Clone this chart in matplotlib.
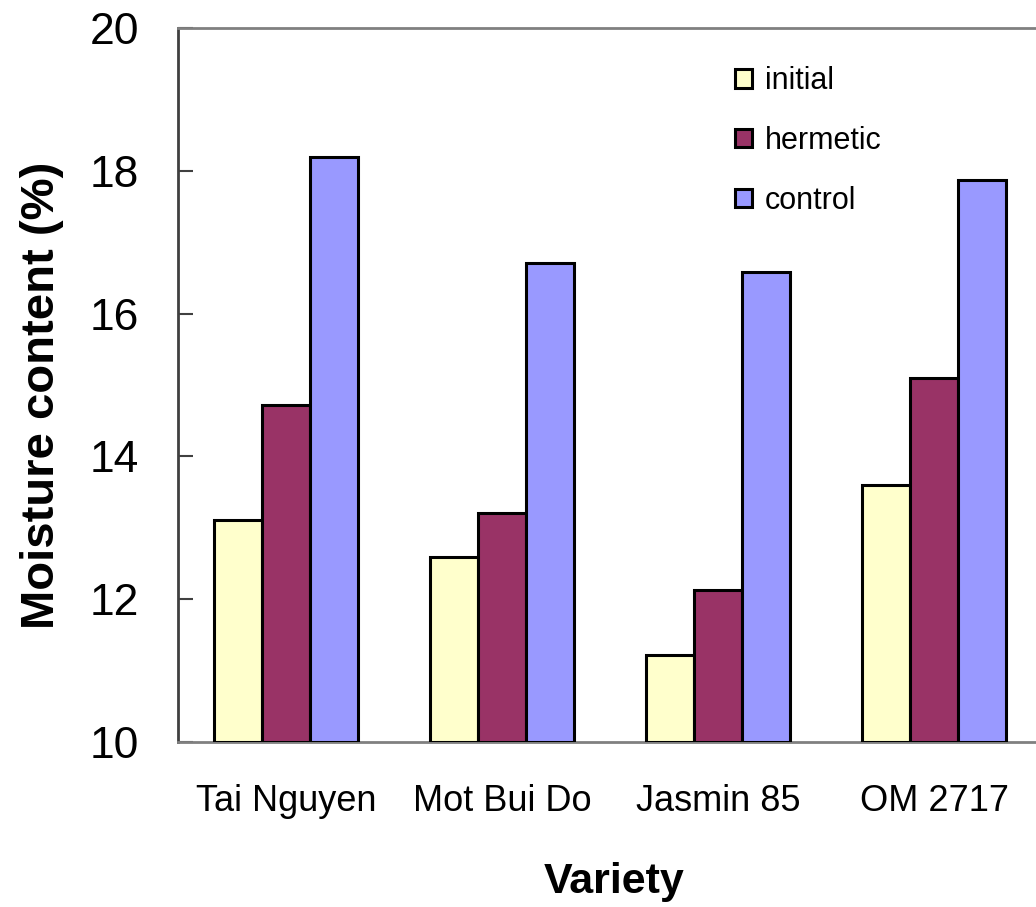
import numpy as np
import matplotlib.pyplot as plt

plt.rcParams['font.family'] = ['Liberation Sans', 'DejaVu Sans']

varieties = ["Tai Nguyen", "Mot Bui Do", "Jasmin 85", "OM 2717"]
initial = [13.11, 12.59, 11.22, 13.60]
hermetic = [14.72, 13.21, 12.13, 15.10]
control = [18.19, 16.71, 16.58, 17.87]

series = [("initial", initial, "#FFFFCC"),
          ("hermetic", hermetic, "#993366"),
          ("control", control, "#9999FF")]

fig = plt.figure(figsize=(10.36, 9.07), dpi=100)
ax = fig.add_axes([0.1718, 0.1819, 0.834, 0.787])

x = np.arange(len(varieties))
w = 0.222
for i, (name, vals, col) in enumerate(series):
    ax.bar(x + (i - 1) * w, np.array(vals) - 10, w, bottom=10, color=col,
           edgecolor="black", linewidth=2.2, label=name, zorder=3)

ax.set_xlim(-0.5, 3.5)
ax.set_ylim(10, 20)
ax.set_yticks(np.arange(10, 21, 2))
ax.set_xticks(x)
ax.set_xticklabels(varieties)

ax.tick_params(axis="y", direction="in", length=11, width=1.5, color="#404040",
               labelsize=32, pad=28)
ax.tick_params(axis="x", length=0, labelsize=26, pad=30)

ax.spines["right"].set_visible(False)
ax.spines["left"].set_color("#404040")
ax.spines["left"].set_linewidth(2)
for s in ("top", "bottom"):
    ax.spines[s].set_color("#808080")
    ax.spines[s].set_linewidth(2)

# axis titles placed in figure coordinates
fig.text(42 / 1036, 1 - 395 / 907, "Moisture content (%)", rotation=90,
         ha="center", va="center", fontsize=34, fontweight="bold")
fig.text(614 / 1036, 1 - 882 / 907, "Variety", ha="center", va="center",
         fontsize=31, fontweight="bold")

ax.legend(loc="upper left", bbox_to_anchor=(735 / 1036, 1 - 66 / 907),
          bbox_transform=fig.transFigure, frameon=False, fontsize=22,
          handlelength=0.56, handleheight=0.56, handletextpad=0.42,
          labelspacing=0.98, borderpad=0, borderaxespad=0)

fig.savefig("out.png", dpi=100)
